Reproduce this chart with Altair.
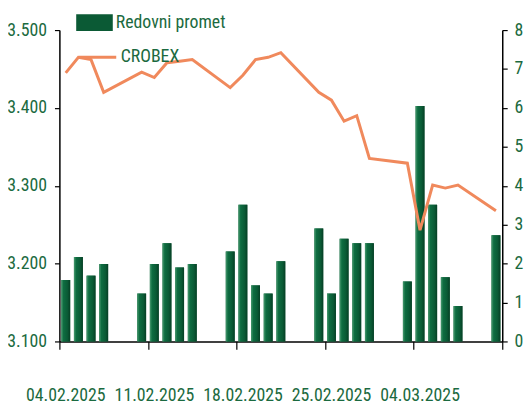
import altair as alt
import pandas as pd

dates = ["2025-02-04", "2025-02-05", "2025-02-06", "2025-02-07",
         "2025-02-10", "2025-02-11", "2025-02-12", "2025-02-13", "2025-02-14",
         "2025-02-17", "2025-02-18", "2025-02-19", "2025-02-20", "2025-02-21",
         "2025-02-24", "2025-02-25", "2025-02-26", "2025-02-27", "2025-02-28",
         "2025-03-03", "2025-03-04", "2025-03-05", "2025-03-06", "2025-03-07",
         "2025-03-10"]
promet = [1.58, 2.17, 1.69, 1.99,
          1.23, 1.99, 2.52, 1.90, 1.99,
          2.31, 3.51, 1.44, 1.23, 2.06,
          2.90, 1.23, 2.64, 2.52, 2.52,
          1.54, 6.05, 3.51, 1.65, 0.91,
          2.73]
crobex = [3445, 3465, 3462, 3420,
          3446, 3439, 3458, 3460, 3462,
          3426, 3442, 3462, 3465, 3471,
          3420, 3410, 3383, 3390, 3335,
          3329, 3243, 3301, 3297, 3301,
          3268]
week_ticks = [(2025, 2, 4), (2025, 2, 11), (2025, 2, 18), (2025, 2, 25), (2025, 3, 4), (2025, 3, 11)]

df = pd.DataFrame({"date": dates, "promet": promet, "crobex": crobex,
                   "s1": "Redovni promet", "s2": "CROBEX"})

GREEN_TXT = "#1b6a40"
BAR_DARK = "#0b5a35"
ORANGE = "#f0895c"
FONT = "Roboto Condensed, Liberation Sans"
FS = 18

def dt(y, m, d):
    return alt.DateTime(year=y, month=m, date=d, utc=True)

xscale = alt.Scale(type="utc", domain=[dt(2025, 2, 4), dt(2025, 3, 11)])
xaxis = alt.Axis(
    values=[dt(*t) for t in week_ticks],
    labelExpr="utcFormat(datum.value, '%d.%m') == '11.03' ? '' : utcFormat(datum.value, '%d.%m.%Y')",
    title=None, grid=False, tickSize=8, labelPadding=38, labelOffset=6,
    domainColor="black", tickColor="black", domainWidth=1.5, tickWidth=1.2,
    labelFlush=False, labelOverlap=False,
    labelFont=FONT, labelFontSize=FS, labelColor=GREEN_TXT,
)
X = alt.X("date:T", timeUnit="utcyearmonthdate", bandPosition=0.5, scale=xscale, axis=xaxis)

yR = alt.Y("promet:Q", scale=alt.Scale(domain=[0, 8], nice=False, zero=True),
           axis=alt.Axis(orient="right", values=list(range(0, 9)), title=None, grid=False,
                         tickSize=5, labelPadding=7, domainColor="black", tickColor="black",
                         domainWidth=1.5, tickWidth=1.2, format="d",
                         labelFont=FONT, labelFontSize=FS, labelColor=GREEN_TXT))

bars_legend = alt.Chart(df).mark_bar(width=9).encode(
    x=X, y=yR,
    fill=alt.Fill("s1:N", scale=alt.Scale(domain=["Redovni promet"], range=[BAR_DARK]),
                  legend=alt.Legend(title=None, orient="none", legendX=17, legendY=-26,
                                    symbolType="M-1,-0.46H1V0.46H-1Z", symbolSize=1369,
                                    symbolStrokeWidth=0, labelOffset=3, padding=0,
                                    labelFont=FONT, labelFontSize=FS, labelColor=GREEN_TXT,
                                    labelLimit=300)),
)

grad = alt.Gradient(
    gradient="linear", x1=0, x2=1, y1=0, y2=0,
    stops=[alt.GradientStop(color="#4a9a70", offset=0),
           alt.GradientStop(color="#0e6d41", offset=0.25),
           alt.GradientStop(color="#0a5a35", offset=0.7),
           alt.GradientStop(color="#063f25", offset=1)],
)
bars_grad = alt.Chart(df).mark_bar(width=9, color=grad).encode(x=X, y=yR)

line = alt.Chart(df).mark_line(strokeWidth=3).encode(
    x=X,
    y=alt.Y("crobex:Q", scale=alt.Scale(domain=[3100, 3500], nice=False, zero=False),
            axis=alt.Axis(orient="left", values=[3100, 3200, 3300, 3400, 3500], title=None,
                          grid=False, tickSize=5, labelPadding=8, domainColor="black",
                          tickColor="black", domainWidth=1.5, tickWidth=1.2,
                          labelFont=FONT, labelFontSize=FS, labelColor=GREEN_TXT,
                          labelExpr="replace(format(datum.value, ','), ',', '.')")),
    stroke=alt.Stroke("s2:N", scale=alt.Scale(domain=["CROBEX"], range=[ORANGE]),
                      legend=alt.Legend(title=None, orient="none", legendX=18, legendY=7,
                                        symbolType="stroke", symbolSize=1444,
                                        symbolStrokeWidth=3, labelOffset=3, padding=0,
                                        labelFont=FONT, labelFontSize=FS, labelColor=GREEN_TXT,
                                        labelLimit=300)),
)

bars = alt.layer(bars_legend, bars_grad)
chart = alt.layer(bars, line).resolve_scale(
    y="independent", stroke="independent", fill="independent"
).properties(
    width=448, height=315,
    padding={"left": 52, "top": 20, "right": 22, "bottom": 65},
    autosize=alt.AutoSizeParams(type="none"),
    background="white",
).configure_view(stroke=None)

chart.save("out.html", embed_options={"renderer": "svg", "actions": False})
